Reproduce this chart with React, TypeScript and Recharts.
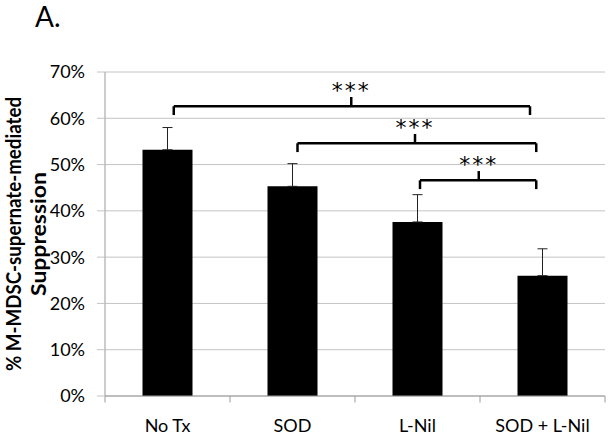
import {
  Bar,
  BarChart,
  CartesianGrid,
  Customized,
  ErrorBar,
  ReferenceDot,
  ReferenceLine,
  XAxis,
  YAxis,
} from 'recharts'

const CATEGORIES = ['No Tx', 'SOD', 'L-Nil', 'SOD + L-Nil']
const SUPPRESSION = [53.2, 45.3, 37.6, 26.0]
const SEM = [4.8, 4.9, 5.9, 5.8]
const Y_TICKS = [0, 10, 20, 30, 40, 50, 60, 70]

// significance brackets, in category index / percent units
const BRACKET_FROM = [0.05, 1.04, 2.02]
const BRACKET_TO = [2.9, 2.95, 2.95]
const BRACKET_MID = [1.47, 1.98, 2.49]
const BRACKET_LEVEL = [62.6, 54.6, 46.6]
const BRACKET_LABEL = ['***', '***', '***']

const BOUNDARIES = [-0.5, 0.5, 1.5, 2.5, 3.5]

const data = CATEGORIES.map((name, i) => ({
  name,
  idx: i,
  value: SUPPRESSION[i],
  err: [0, SEM[i]],
}))

const FONT = 'Lato, "Open Sans", sans-serif'
const GRID = '#c4c4c4'
const AXIS = '#9a9a9a'

function Titles() {
  return (
    <g fontFamily={FONT} fill="#000">
      <text x={35} y={27} fontSize={28}>
        A.
      </text>
      <text
        x={234}
        y={0}
        transform="rotate(-90 0 0) translate(-468 21)"
        textAnchor="middle"
        fontSize={20}
        fontWeight="bold"
        textLength={274}
        lengthAdjust="spacingAndGlyphs"
      >
        % M-MDSC-supernate-mediated
      </text>
      <text
        x={234}
        y={0}
        transform="rotate(-90 0 0) translate(-468 46)"
        textAnchor="middle"
        fontSize={20}
        fontWeight="bold"
        textLength={124}
        lengthAdjust="spacingAndGlyphs"
      >
        Suppression
      </text>
    </g>
  )
}

export default function App() {
  return (
    <div style={{ position: 'fixed', left: 0, top: 0, background: '#fff' }}>
      <BarChart
        width={613}
        height={437}
        data={data}
        margin={{ top: 72, right: 8, bottom: 11, left: 0 }}
        barCategoryGap="30%"
      >
        <CartesianGrid vertical={false} stroke={GRID} />
        <XAxis
          dataKey="name"
          tickLine={false}
          axisLine={{ stroke: AXIS }}
          height={30}
          tick={{ fill: '#000', fontSize: 18, fontFamily: FONT, dy: 15 }}
        />
        <XAxis
          xAxisId="num"
          dataKey="idx"
          type="number"
          domain={[-0.5, 3.5]}
          allowDataOverflow
          hide
        />
        <YAxis
          width={105}
          domain={[0, 70]}
          ticks={Y_TICKS}
          interval={0}
          tickFormatter={(v) => `${v}%`}
          axisLine={{ stroke: AXIS }}
          tickLine={{ stroke: GRID }}
          tickSize={8}
          tickMargin={12}
          tick={{ fill: '#000', fontSize: 18, fontFamily: FONT }}
        />
        <Bar dataKey="value" fill="#000" isAnimationActive={false}>
          <ErrorBar
            dataKey="err"
            direction="y"
            width={5}
            stroke="#222"
            strokeWidth={1}
            isAnimationActive={false}
          />
        </Bar>
        {BOUNDARIES.map((b) => (
          <ReferenceLine
            key={`tick-${b}`}
            xAxisId="num"
            ifOverflow="visible"
            stroke={AXIS}
            segment={[
              { x: b, y: 0 },
              { x: b, y: -1.4 },
            ]}
          />
        ))}
        {BRACKET_LEVEL.map((level, i) => [
          <ReferenceLine
            key={`h-${i}`}
            xAxisId="num"
            ifOverflow="visible"
            stroke="#000"
            strokeWidth={2.5}
            segment={[
              { x: BRACKET_FROM[i], y: level },
              { x: BRACKET_TO[i], y: level },
            ]}
          />,
          <ReferenceLine
            key={`l-${i}`}
            xAxisId="num"
            ifOverflow="visible"
            stroke="#000"
            strokeWidth={2.5}
            segment={[
              { x: BRACKET_FROM[i], y: level },
              { x: BRACKET_FROM[i], y: level - 1.9 },
            ]}
          />,
          <ReferenceLine
            key={`r-${i}`}
            xAxisId="num"
            ifOverflow="visible"
            stroke="#000"
            strokeWidth={2.5}
            segment={[
              { x: BRACKET_TO[i], y: level },
              { x: BRACKET_TO[i], y: level - 1.9 },
            ]}
          />,
          <ReferenceLine
            key={`m-${i}`}
            xAxisId="num"
            ifOverflow="visible"
            stroke="#000"
            strokeWidth={2.5}
            segment={[
              { x: BRACKET_MID[i], y: level },
              { x: BRACKET_MID[i], y: level + 2 },
            ]}
          />,
          <ReferenceDot
            key={`s-${i}`}
            xAxisId="num"
            x={BRACKET_MID[i]}
            y={level + 3.7}
            r={0}
            ifOverflow="visible"
            label={{
              value: BRACKET_LABEL[i],
              position: 'center',
              fill: '#000',
              fontSize: 22,
              fontFamily: '"DejaVu Sans", sans-serif',
              letterSpacing: 2,
              dy: 1,
            }}
          />,
        ])}
        <Customized component={Titles} />
      </BarChart>
    </div>
  )
}
